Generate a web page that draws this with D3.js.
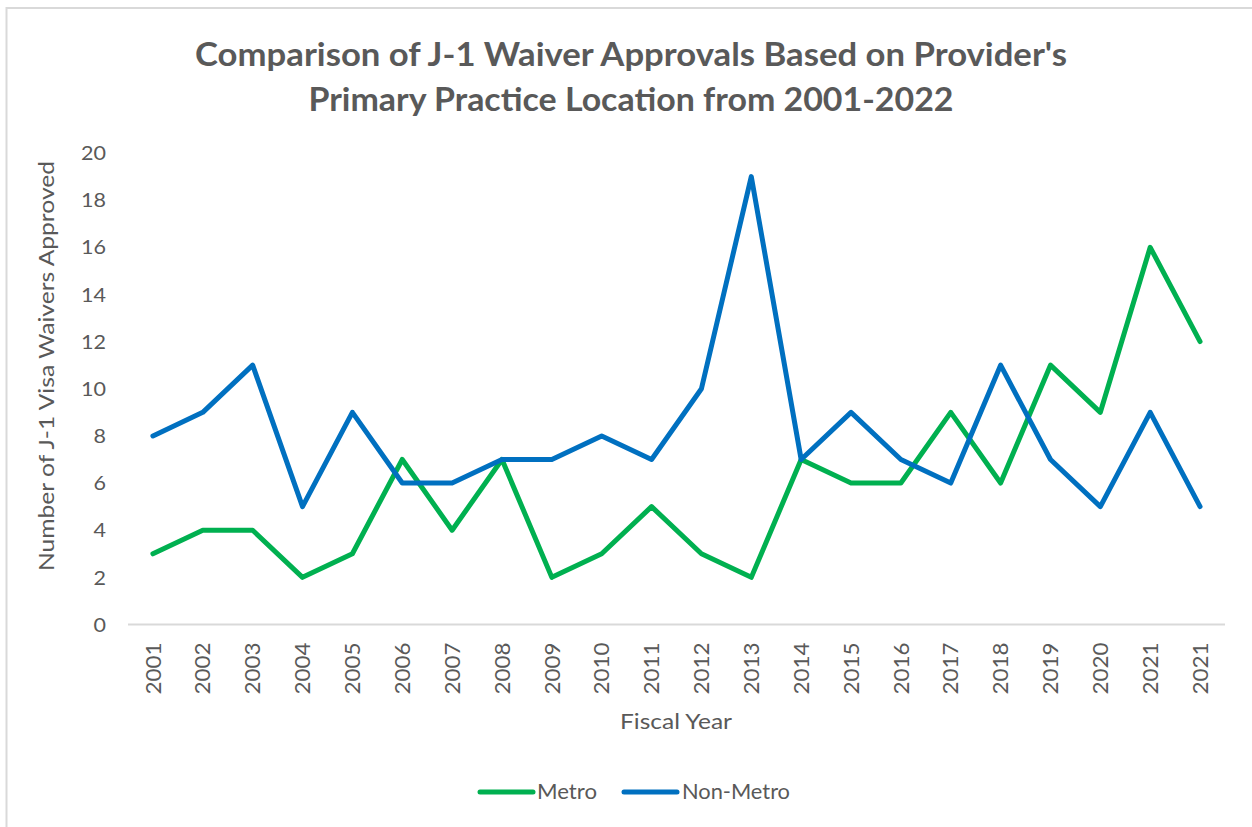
<!DOCTYPE html>
<html>
<head>
<meta charset="utf-8">
<script src="https://cdn.jsdelivr.net/npm/d3@7"></script>
<style>
  html, body { margin: 0; padding: 0; background: #fff; }
  svg { display: block; }
</style>
</head>
<body>
<svg id="chart" width="1252" height="827"></svg>
<script>
const categories = ["2001","2002","2003","2004","2005","2006","2007","2008","2009","2010","2011","2012","2013","2014","2015","2016","2017","2018","2019","2020","2021","2021"];
const metro    = [3,4,4,2,3,7,4,7,2,3,5,3,2,7,6,6,9,6,11,9,16,12];
const nonMetro = [8,9,11,5,9,6,6,7,7,8,7,10,19,7,9,7,6,11,7,5,9,5];
const yTicks = [0,2,4,6,8,10,12,14,16,18,20];
const titleLines = ["Comparison of J-1 Waiver Approvals Based on Provider's", "Primary Practice Location from 2001-2022"];
const seriesNames = ["Metro", "Non-Metro"];

(function () {
const svg = d3.select("#chart");
const font = "Lato, 'Open Sans', sans-serif";
const textColor = "#595959";
const colors = {"Metro": "#00B050", "Non-Metro": "#0070C0"};

// frame
svg.append("line").attr("x1", 6.5).attr("x2", 1252).attr("y1", 8).attr("y2", 8)
  .attr("stroke", "#d9d9d9").attr("stroke-width", 2);
svg.append("line").attr("x1", 6.5).attr("x2", 6.5).attr("y1", 7).attr("y2", 827)
  .attr("stroke", "#d9d9d9").attr("stroke-width", 2);

const pLeft = 128, pRight = 1225, pTop = 153, pBottom = 624.5;
const idx = categories.map((d, i) => i);
const x = d3.scaleBand().domain(idx).range([pLeft, pRight]);
const y = d3.scaleLinear().domain([0, 20]).range([pBottom, pTop]);
const cx = i => x(i) + x.bandwidth() / 2;

// title
const title = svg.append("g").attr("font-family", font).attr("font-weight", "bold")
  .attr("fill", textColor).attr("font-size", 32);
title.append("text").attr("x", 631).attr("y", 66).attr("text-anchor", "middle")
  .attr("textLength", 872).attr("lengthAdjust", "spacingAndGlyphs").text(titleLines[0]);
title.append("text").attr("x", 631).attr("y", 111).attr("text-anchor", "middle")
  .attr("textLength", 645).attr("lengthAdjust", "spacingAndGlyphs").text(titleLines[1]);

// baseline
svg.append("line").attr("x1", pLeft).attr("x2", pRight).attr("y1", y(0)).attr("y2", y(0))
  .attr("stroke", "#d9d9d9").attr("stroke-width", 2);

// y axis
const yAxis = d3.axisLeft(y).tickValues(yTicks).tickSize(0).tickPadding(0);
const yg = svg.append("g").attr("transform", `translate(${pLeft - 22},0)`).call(yAxis);
yg.select(".domain").remove();
yg.selectAll("text").attr("font-family", font).attr("font-size", 19).attr("fill", textColor)
  .attr("text-anchor", "end").attr("dy", "0.35em")
  .attr("textLength", d => String(d).length * 12.5).attr("lengthAdjust", "spacingAndGlyphs");

// x axis
const xAxis = d3.axisBottom(x).tickFormat(i => categories[i]).tickSize(0).tickPadding(0);
const xg = svg.append("g").attr("transform", `translate(0,${pBottom})`).call(xAxis);
xg.select(".domain").remove();
xg.selectAll("text").attr("font-family", font).attr("font-size", 22).attr("fill", textColor)
  .attr("transform", "rotate(-90)").attr("text-anchor", "end")
  .attr("x", -18).attr("y", 0).attr("dy", "0.35em")
  .attr("textLength", 52).attr("lengthAdjust", "spacingAndGlyphs");

// axis titles
svg.append("text").attr("transform", `translate(54,366) rotate(-90)`)
  .attr("text-anchor", "middle").attr("font-family", font).attr("font-size", 21)
  .attr("fill", textColor).attr("textLength", 410).attr("lengthAdjust", "spacingAndGlyphs")
  .text("Number of J-1 Visa Waivers Approved");
svg.append("text").attr("x", 676).attr("y", 729).attr("text-anchor", "middle")
  .attr("font-family", font).attr("font-size", 22).attr("fill", textColor)
  .attr("textLength", 112).attr("lengthAdjust", "spacingAndGlyphs")
  .text("Fiscal Year");

// lines
const line = d3.line().x((d, i) => cx(i)).y(d => y(d));
[[seriesNames[0], metro], [seriesNames[1], nonMetro]].forEach(([name, vals]) => {
  svg.append("path").datum(vals).attr("d", line).attr("fill", "none")
    .attr("stroke", colors[name]).attr("stroke-width", 5)
    .attr("stroke-linejoin", "round").attr("stroke-linecap", "round");
});

// legend
const legend = [
  {name: seriesNames[0], x1: 480, x2: 533, tx: 537, tl: 60},
  {name: seriesNames[1], x1: 624, x2: 677, tx: 682, tl: 108}
];
legend.forEach(l => {
  svg.append("line").attr("x1", l.x1).attr("x2", l.x2).attr("y1", 792).attr("y2", 792)
    .attr("stroke", colors[l.name]).attr("stroke-width", 5).attr("stroke-linecap", "round");
  svg.append("text").attr("x", l.tx).attr("y", 792).attr("dy", "0.35em")
    .attr("font-family", font).attr("font-size", 21).attr("fill", textColor)
    .attr("textLength", l.tl).attr("lengthAdjust", "spacingAndGlyphs").text(l.name);
});
})();
</script>
</body>
</html>
